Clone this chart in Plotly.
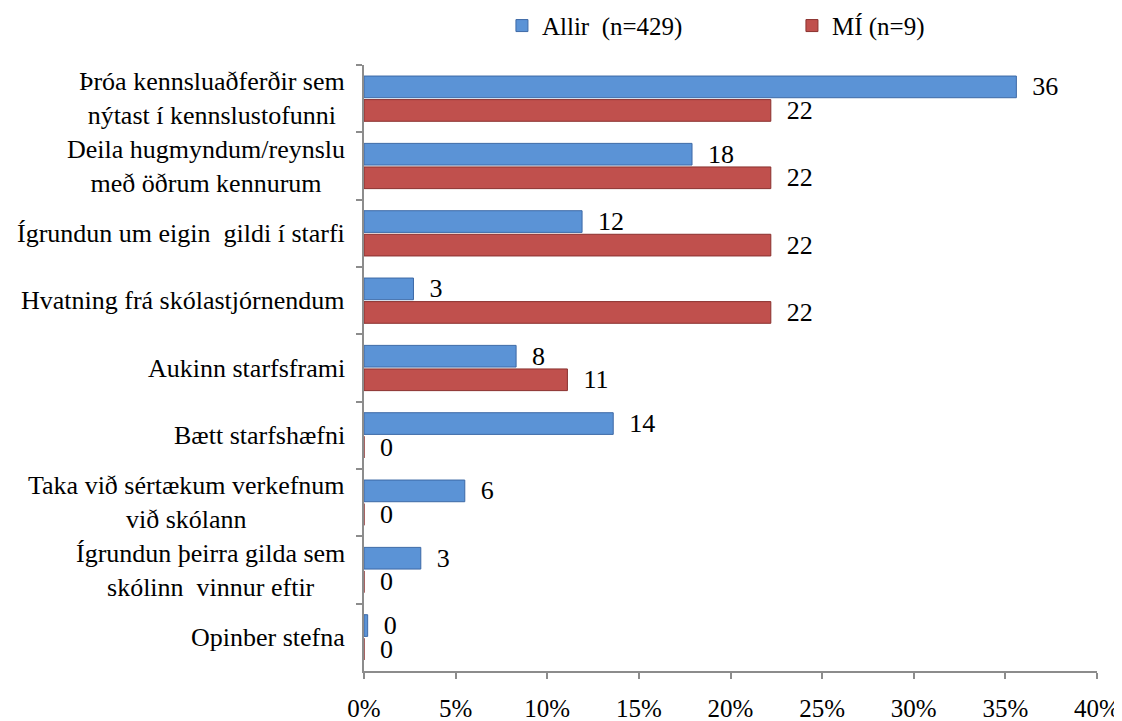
import plotly.graph_objects as go

# categories, top to bottom
categories = [
    "Þróa kennsluaðferðir sem<br>nýtast í kennslustofunni",
    "Deila hugmyndum/reynslu<br>með öðrum kennurum",
    "Ígrundun um eigin  gildi í starfi",
    "Hvatning frá skólastjórnendum",
    "Aukinn starfsframi",
    "Bætt starfshæfni",
    "Taka við sértækum verkefnum<br>við skólann",
    "Ígrundun þeirra gilda sem<br>skólinn  vinnur eftir",
    "Opinber stefna",
]
cat_keys = ["c%d" % i for i in range(len(categories))]

# percentages
allir_pct = [35.6, 17.9, 11.9, 2.7, 8.3, 13.6, 5.5, 3.1, 0.2]
mi_pct = [22.2, 22.2, 22.2, 22.2, 11.1, 0, 0, 0, 0]

# printed data labels
allir_lbl = [36, 18, 12, 3, 8, 14, 6, 3, 0]
mi_lbl = [22, 22, 22, 22, 11, 0, 0, 0, 0]

x_ticks = [0, 5, 10, 15, 20, 25, 30, 35, 40]

FONT = "Liberation Serif"
AXIS_GREY = "#8c8c8c"
PAD = "\u00a0\u00a0"

fig = go.Figure()
fig.add_trace(
    go.Bar(
        y=cat_keys,
        x=allir_pct,
        orientation="h",
        name="Allir\u00a0 (n=429)",
        marker=dict(color="#5b93d6", line=dict(color="#3d69a6", width=1)),
        text=[PAD + str(v) for v in allir_lbl],
        textposition="outside",
        constraintext="none",
        cliponaxis=False,
        textfont=dict(family=FONT, size=26, color="black"),
    )
)
fig.add_trace(
    go.Bar(
        y=cat_keys,
        x=mi_pct,
        orientation="h",
        name="MÍ (n=9)",
        marker=dict(color="#c0504d", line=dict(color="#8a302e", width=1)),
        text=[PAD + str(v) for v in mi_lbl],
        textposition="outside",
        constraintext="none",
        cliponaxis=False,
        textfont=dict(family=FONT, size=26, color="black"),
    )
)

# category labels, lines centred like the original
for key, label in zip(cat_keys, categories):
    fig.add_annotation(
        x=0,
        xref="paper",
        y=key,
        yref="y",
        text=label,
        showarrow=False,
        xanchor="right",
        yanchor="middle",
        align="center",
        xshift=-17,
        font=dict(family=FONT, size=26, color="black"),
    )

# page body adds an 8px offset, so the figure is 8px smaller and shifted
fig.update_layout(
    width=1114,
    height=713,
    margin=dict(l=356, r=25, t=57, b=50),
    paper_bgcolor="white",
    plot_bgcolor="white",
    barmode="group",
    bargap=0.3,
    bargroupgap=0.08,
    font=dict(family=FONT, size=25, color="black"),
    showlegend=True,
    legend=dict(
        orientation="h",
        xref="container",
        yref="container",
        x=0.4434,
        xanchor="left",
        y=0.975,
        yanchor="middle",
        font=dict(family=FONT, size=25, color="black"),
        entrywidth=245,
        traceorder="normal",
    ),
)
fig.update_xaxes(
    range=[0, 40],
    tickvals=x_ticks,
    ticktext=["%d%%" % v for v in x_ticks],
    showgrid=False,
    zeroline=False,
    showline=True,
    linecolor=AXIS_GREY,
    linewidth=1.5,
    ticks="outside",
    ticklen=6,
    tickcolor=AXIS_GREY,
    tickwidth=1.5,
    ticklabelstandoff=8,
    automargin=False,
    tickfont=dict(family=FONT, size=25, color="black"),
)
fig.update_yaxes(
    autorange="reversed",
    categoryorder="array",
    categoryarray=cat_keys,
    showticklabels=False,
    showgrid=False,
    zeroline=False,
    showline=True,
    linecolor=AXIS_GREY,
    linewidth=1.5,
    ticks="outside",
    tickson="boundaries",
    ticklen=6,
    tickcolor=AXIS_GREY,
    tickwidth=1.5,
    automargin=False,
)

fig.write_html("out.html")
